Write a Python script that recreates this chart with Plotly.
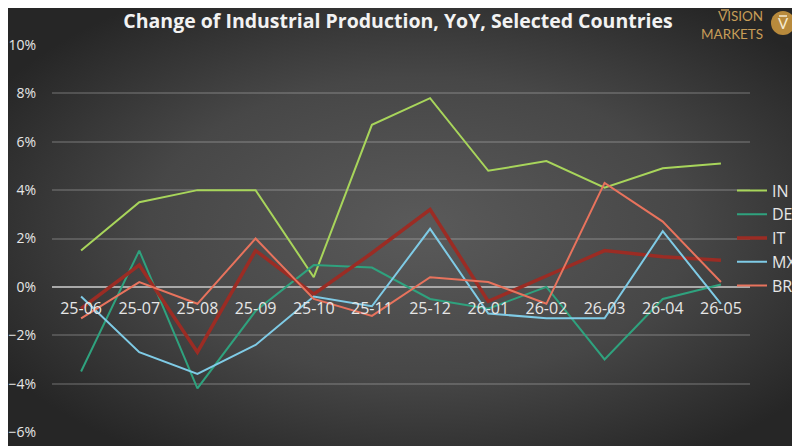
import base64
import plotly.graph_objects as go

# values (YoY % change)
months = ['25-06', '25-07', '25-08', '25-09', '25-10', '25-11',
          '25-12', '26-01', '26-02', '26-03', '26-04', '26-05']
IN = [1.5, 3.5, 4.0, 4.0, 0.4, 6.7, 7.8, 4.8, 5.2, 4.1, 4.9, 5.1]
DE = [-3.5, 1.5, -4.2, -1.0, 0.9, 0.8, -0.5, -0.9, 0.0, -3.0, -0.5, 0.1]
IT = [-0.9, 0.9, -2.7, 1.5, -0.3, 1.4, 3.2, -0.6, 0.45, 1.5, 1.25, 1.1]
MX = [-0.4, -2.7, -3.6, -2.4, -0.4, -0.8, 2.4, -1.1, -1.3, -1.3, 2.3, -0.7]
BR = [-1.3, 0.2, -0.7, 2.0, -0.5, -1.2, 0.4, 0.2, -0.7, 4.3, 2.7, 0.2]

# page body adds an 8px offset, so the figure fills the rest of the window
OFF = 8
W, H = 800 - OFF, 446 - OFF
L, R, T, B = 52 - OFF, 50, 45 - OFF, 14
PW, PH = W - L - R, H - T - B


# helpers taking window pixel positions
def px(x):
    return (x - OFF - L) / PW


def py(y):
    return (H - B - (y - OFF)) / PH


series = [
    ('IN', IN, '#a8d55b', 2),
    ('DE', DE, '#2fa27e', 2),
    ('IT', IT, '#9b2c24', 3.5),
    ('MX', MX, '#7fcbe6', 2),
    ('BR', BR, '#e8735d', 2),
]

fig = go.Figure()
for name, vals, color, width in series:
    fig.add_trace(go.Scatter(
        x=months, y=vals, name=name, mode='lines',
        line=dict(color=color, width=width),
    ))

# radial gradient background
svg = (
    f'<svg xmlns="http://www.w3.org/2000/svg" width="{W}" height="{H}">'
    '<defs><radialGradient id="g" cx="52%" cy="50%" r="62%">'
    '<stop offset="0" stop-color="#5a5a5a"/>'
    '<stop offset="0.55" stop-color="#474747"/>'
    '<stop offset="1" stop-color="#262626"/>'
    '</radialGradient></defs>'
    f'<rect width="{W}" height="{H}" fill="url(#g)"/></svg>'
)
bg = 'data:image/svg+xml;base64,' + base64.b64encode(svg.encode()).decode()

font = 'Open Sans'
gold = '#c79d58'

fig.update_layout(
    width=W, height=H,
    margin=dict(l=L, r=R, t=T, b=B, autoexpand=False),
    paper_bgcolor='#2e2e2e',
    plot_bgcolor='rgba(0,0,0,0)',
    images=[dict(source=bg, xref='paper', yref='paper',
                 x=-L / PW, y=1 + T / PH, sizex=W / PW, sizey=H / PH,
                 xanchor='left', yanchor='top', sizing='stretch', layer='below')],
    title=dict(text='<b>Change of Industrial Production, YoY, Selected Countries</b>',
               x=(398 - OFF) / W, xref='container', xanchor='center',
               y=1 - (21 - OFF) / H, yref='container', yanchor='middle',
               font=dict(family=font, size=19.5, color='#f2f2f2')),
    xaxis=dict(
        type='category', range=[-0.5, len(months) - 0.5],
        showgrid=False, showline=False, zeroline=False,
        anchor='free', position=6 / 16, automargin=False,
        ticks='outside', ticklen=7, tickcolor='rgba(0,0,0,0)',
        tickfont=dict(family=font, size=16, color='#e6e6e6'),
    ),
    yaxis=dict(
        range=[-6, 10], dtick=2, ticksuffix='%', automargin=False,
        showgrid=True, gridcolor='rgba(255,255,255,0.17)', gridwidth=2,
        zeroline=True, zerolinecolor='#a9a9a9', zerolinewidth=2,
        showline=False, ticks='outside', ticklen=12, tickcolor='rgba(0,0,0,0)',
        tickfont=dict(family=font, size=14, color='#e6e6e6'),
    ),
    legend=dict(
        x=px(732), xanchor='left', y=py(238), yanchor='middle',
        font=dict(family=font, size=16, color='#e6e6e6'),
        bgcolor='rgba(0,0,0,0)', itemwidth=30, tracegroupgap=0,
    ),
    annotations=[
        dict(text='VISION<br>MARKETS', xref='paper', yref='paper',
             x=px(765), y=py(25), xanchor='right', yanchor='middle',
             align='right', showarrow=False,
             font=dict(family='Lato', size=13.5, color=gold)),
        dict(text='V', xref='paper', yref='paper',
             x=px(783), y=py(23), xanchor='center', yanchor='middle',
             showarrow=False, font=dict(family='Lato', size=15, color='#f6ead0')),
    ],
    shapes=[
        dict(type='circle', xref='paper', yref='paper',
             x0=px(771), x1=px(795), y0=py(11), y1=py(35),
             fillcolor='#b88a3c', line=dict(width=0), layer='above'),
        # macron strokes of the logo
        dict(type='line', xref='paper', yref='paper',
             x0=px(721), x1=px(729), y0=py(10), y1=py(10),
             line=dict(color=gold, width=1.5)),
        dict(type='line', xref='paper', yref='paper',
             x0=px(779), x1=px(787), y0=py(16), y1=py(16),
             line=dict(color='#f6ead0', width=1.5)),
    ],
)

fig.write_html('out.html')
